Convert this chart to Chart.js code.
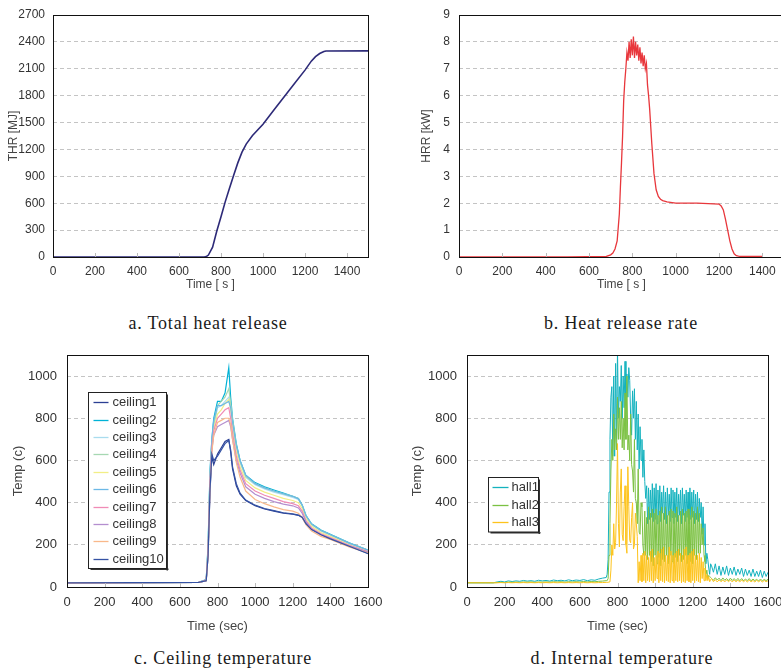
<!DOCTYPE html>
<html>
<head>
<meta charset="utf-8">
<script src="https://cdn.jsdelivr.net/npm/chart.js@4.4.0/dist/chart.umd.min.js"></script>
<style>
    html, body {
        margin: 0;
        padding: 0;
        background: #fff;
        width: 781px;
        height: 672px;
        overflow: hidden;
        position: relative;
    }
    canvas {
        position: absolute;
    }
    .caption {
        position: absolute;
        font-family: "Liberation Serif", "Times New Roman", serif;
        font-size: 18px;
        letter-spacing: 0.8px;
        line-height: 20px;
        color: #1a1a1a;
        white-space: nowrap;
        transform: translateX(-50%);
    }
</style>
</head>
<body>
<canvas id="thr-chart" width="390" height="292" style="left:0;top:0"></canvas>
<canvas id="hrr-chart" width="400" height="292" style="left:400px;top:0"></canvas>
<canvas id="ceiling-chart" width="390" height="294" style="left:0;top:340px"></canvas>
<canvas id="hall-chart" width="391" height="294" style="left:390px;top:340px"></canvas>
<div class="caption" style="left:208px;top:313px">a. Total heat release</div>
<div class="caption" style="left:621px;top:313px">b. Heat release rate</div>
<div class="caption" style="left:223px;top:648px">c. Ceiling temperature</div>
<div class="caption" style="left:622px;top:648px">d. Internal temperature</div>
<script>
// a. total heat release
const thrTime = [0, 700, 720, 730, 740, 760, 780, 800, 820, 840, 860, 880, 900, 920, 950, 1000, 1050, 1100, 1150, 1200, 1230, 1250, 1270, 1290, 1300, 1500];
const thrValues = [0, 0, 0, 5, 22, 110, 290, 450, 615, 765, 910, 1050, 1170, 1260, 1355, 1480, 1635, 1785, 1935, 2085, 2185, 2235, 2270, 2292, 2298, 2300];

// b. heat release rate
const hrrTime = [0, 500, 680, 700, 710, 720, 730, 740, 745, 750, 755, 760, 765, 770, 775, 780, 785, 790, 795, 800, 805, 810, 815, 820, 825, 830, 835, 840, 845, 850, 855, 860, 865, 870, 875, 880, 890, 900, 910, 920, 930, 940, 960, 1000, 1100, 1200, 1210, 1220, 1230, 1240, 1250, 1260, 1270, 1280, 1290, 1300, 1400];
const hrrValues = [0, 0, 0.02, 0.08, 0.15, 0.3, 0.6, 1.6, 2.6, 3.5, 4.5, 5.8, 6.5, 7.0, 7.6, 7.3, 8.0, 7.4, 8.1, 7.5, 8.2, 7.4, 8.0, 7.5, 7.9, 7.3, 7.8, 7.2, 7.6, 7.1, 7.5, 7.0, 7.2, 6.4, 6.0, 5.5, 4.2, 3.1, 2.5, 2.25, 2.15, 2.1, 2.05, 2.0, 2.0, 1.97, 1.9, 1.75, 1.4, 1.0, 0.6, 0.3, 0.12, 0.05, 0.03, 0.02, 0.02];

// c. ceiling temperature
const ceilingTime = [0, 700, 740, 750, 760, 770, 780, 800, 820, 840, 860, 870, 880, 900, 920, 950, 1000, 1050, 1100, 1150, 1200, 1230, 1250, 1270, 1300, 1350, 1400, 1500, 1600];
const ceiling1 = [20, 22, 30, 150, 450, 620, 580, 630, 660, 690, 700, 640, 560, 480, 440, 410, 385, 370, 360, 350, 345, 340, 330, 300, 275, 250, 230, 195, 160];
const ceiling2 = [20, 22, 35, 200, 550, 700, 800, 880, 880, 920, 1040, 900, 800, 680, 600, 530, 495, 475, 460, 445, 430, 420, 390, 340, 300, 270, 250, 210, 175];
const ceiling3 = [20, 22, 33, 180, 520, 680, 760, 850, 860, 880, 900, 860, 780, 660, 590, 520, 485, 465, 450, 438, 425, 415, 385, 335, 295, 265, 245, 205, 172];
const ceiling4 = [20, 22, 33, 180, 520, 690, 770, 860, 880, 900, 940, 870, 790, 670, 595, 525, 490, 470, 455, 442, 430, 420, 388, 338, 298, 268, 248, 208, 175];
const ceiling5 = [20, 22, 32, 170, 500, 670, 750, 820, 840, 870, 890, 840, 760, 640, 570, 505, 470, 450, 435, 420, 410, 400, 372, 325, 288, 258, 240, 200, 168];
const ceiling6 = [20, 22, 34, 190, 530, 700, 790, 860, 860, 870, 880, 850, 780, 670, 600, 530, 490, 470, 455, 442, 430, 418, 388, 338, 298, 268, 248, 208, 175];
const ceiling7 = [20, 22, 32, 170, 500, 660, 740, 800, 820, 840, 850, 800, 730, 620, 555, 490, 455, 435, 420, 405, 395, 385, 360, 315, 280, 252, 235, 198, 168];
const ceiling8 = [20, 22, 31, 160, 480, 650, 720, 760, 770, 780, 790, 760, 700, 600, 540, 475, 440, 420, 405, 393, 385, 375, 350, 310, 275, 248, 230, 195, 165];
const ceiling9 = [20, 22, 30, 160, 470, 640, 720, 780, 790, 800, 800, 770, 700, 590, 520, 455, 415, 395, 380, 367, 360, 350, 330, 295, 265, 240, 225, 190, 162];
const ceiling10 = [20, 22, 30, 150, 460, 630, 600, 620, 650, 680, 695, 650, 570, 490, 445, 412, 388, 372, 362, 352, 347, 341, 331, 300, 272, 248, 228, 193, 158];
const ceilingNames = ['ceiling1', 'ceiling2', 'ceiling3', 'ceiling4', 'ceiling5', 'ceiling6', 'ceiling7', 'ceiling8', 'ceiling9', 'ceiling10'];
const ceilingColors = ['#2b3f93', '#00b2d6', '#a9dcee', '#a6d8b2', '#f2ee86', '#6cb8e6', '#f08bb6', '#b48ecf', '#f9b88a', '#3452a4'];

// d. internal temperature (5 s steps through the fire, coarser elsewhere)
const hallTime = [0, 100, 140, 160, 180, 200, 220, 240, 260, 280, 300, 320, 340, 360, 380, 400, 420, 440, 460, 480, 500, 520, 540, 560, 580, 600, 620, 640, 660, 680, 700, 720, 740,
    745, 750, 755, 760, 765, 770, 775, 780, 785, 790,
    795, 800, 805, 810, 815, 820, 825, 830, 835, 840,
    845, 850, 855, 860, 865, 870, 875, 880, 885, 890,
    895, 900, 905, 910, 915, 920, 925, 930, 935, 940,
    945, 950, 955, 960, 965, 970, 975, 980, 985, 990,
    995, 1000, 1005, 1010, 1015, 1020, 1025, 1030, 1035, 1040,
    1045, 1050, 1055, 1060, 1065, 1070, 1075, 1080, 1085, 1090,
    1095, 1100, 1105, 1110, 1115, 1120, 1125, 1130, 1135, 1140,
    1145, 1150, 1155, 1160, 1165, 1170, 1175, 1180, 1185, 1190,
    1195, 1200, 1205, 1210, 1215, 1220, 1225, 1230, 1235, 1240,
    1245, 1250, 1255, 1260, 1265, 1270, 1275, 1280, 1285, 1290,
    1295, 1300,
    1310, 1320, 1330, 1340, 1350, 1360, 1370, 1380, 1390, 1400,
    1410, 1420, 1430, 1440, 1450, 1460, 1470, 1480, 1490, 1500,
    1510, 1520, 1530, 1540, 1550, 1560, 1570, 1580, 1590, 1600];
const hall1 = [20, 20, 20, 24, 27, 24, 29, 26, 29, 27, 31, 28, 30, 27, 32, 29, 31, 28, 33, 30, 32, 29, 34, 30, 33, 31, 35, 30, 34, 32, 38, 42, 45,
    60, 130, 450, 700, 900, 950, 620, 1000, 620, 1060,
    700, 1125, 800, 950, 880, 1050, 800, 1000, 850, 1070,
    860, 1010, 900, 1040, 980, 800, 720, 930, 800, 940,
    700, 880, 650, 820, 560, 760, 600, 700, 520, 650,
    500, 420, 480, 300, 470, 320, 460, 330, 490, 310,
    470, 320, 490, 300, 460, 340, 480, 310, 450, 350,
    480, 320, 450, 300, 470, 340, 440, 310, 470, 330,
    460, 300, 450, 330, 470, 310, 440, 340, 460, 300,
    470, 340, 440, 310, 460, 330, 450, 300, 470, 320,
    450, 330, 460, 300, 440, 320, 450, 310, 420, 330,
    400, 250, 380, 200, 300, 110, 160, 130, 90, 60,
    110, 100,
    70, 110, 60, 100, 55, 95, 60, 100, 55, 90,
    60, 95, 55, 85, 60, 90, 50, 85, 55, 80,
    50, 85, 50, 75, 50, 80, 45, 75, 50, 70];
const hall2 = [20, 20, 20, 21, 22, 21, 23, 22, 23, 22, 24, 23, 24, 22, 24, 23, 24, 23, 25, 24, 25, 23, 25, 24, 25, 24, 26, 24, 26, 25, 27, 28, 30,
    30, 40, 150, 300, 550, 700, 600, 820, 650, 750,
    650, 900, 700, 850, 700, 880, 660, 800, 650, 920,
    700, 1000, 650, 720, 600, 820, 580, 550, 450, 700,
    420, 400, 300, 560, 260, 250, 400, 380, 200, 150,
    360, 150, 330, 130, 380, 150, 350, 120, 370, 100,
    350, 150, 370, 110, 340, 140, 360, 100, 380, 130,
    350, 120, 380, 150, 340, 110, 360, 150, 370, 120,
    360, 110, 350, 140, 380, 120, 340, 150, 360, 120,
    370, 130, 350, 150, 360, 110, 370, 130, 340, 120,
    380, 110, 360, 150, 350, 130, 380, 160, 350, 160,
    300, 200, 280, 150, 120, 60, 80, 40, 55, 50,
    45, 40,
    32, 44, 33, 42, 30, 43, 32, 40, 30, 42,
    31, 40, 30, 41, 30, 40, 29, 38, 30, 40,
    29, 38, 30, 37, 28, 38, 29, 36, 30, 37];
const hall3 = [20, 20, 20, 20, 21, 20, 21, 20, 21, 20, 21, 20, 21, 20, 21, 20, 21, 20, 21, 20, 21, 20, 21, 20, 21, 20, 21, 20, 21, 20, 21, 21, 22,
    22, 22, 24, 25, 80, 200, 150, 300, 180, 210,
    400, 680, 300, 190, 450, 560, 250, 220, 380, 480,
    200, 160, 570, 380, 220, 210, 330, 400, 180, 200,
    350, 300, 240, 20, 120, 30, 150, 25, 160, 30,
    170, 20, 150, 30, 140, 25, 170, 30, 180, 20,
    140, 30, 150, 40, 170, 20, 160, 30, 180, 25,
    190, 20, 150, 30, 150, 25, 190, 20, 170, 30,
    150, 20, 160, 30, 170, 25, 180, 30, 160, 20,
    150, 25, 180, 20, 190, 30, 150, 25, 160, 20,
    170, 30, 180, 20, 150, 30, 150, 25, 160, 20,
    140, 40, 120, 30, 90, 30, 60, 30, 50, 25,
    35, 40,
    25, 35, 24, 34, 25, 33, 24, 34, 25, 33,
    24, 33, 25, 32, 24, 33, 25, 32, 24, 32,
    25, 31, 24, 32, 25, 31, 24, 31, 25, 30];
const hallNames = ['hall1', 'hall2', 'hall3'];
const hallColors = ['#14b2be', '#7bc142', '#fdc31c'];

Chart.defaults.font.family = '"Liberation Sans", Arial, sans-serif';
Chart.defaults.color = '#333';

function toPoints(time, values) {
    return values.map((v, i) => ({x: time[i], y: v}));
}

// black frame round the plot and little inward ticks on the time axis
const framePlugin = {
    id: 'frame',
    afterDatasetsDraw(chart) {
        const {ctx, chartArea: a, scales} = chart;
        ctx.save();
        ctx.strokeStyle = '#bbb';
        ctx.lineWidth = 1;
        scales.x.ticks.forEach((t) => {
            const px = Math.round(scales.x.getPixelForValue(t.value)) + 0.5;
            ctx.beginPath();
            ctx.moveTo(px, a.bottom - 4);
            ctx.lineTo(px, a.bottom);
            ctx.stroke();
        });
        ctx.strokeStyle = '#111';
        ctx.strokeRect(Math.round(a.left) + 0.5, Math.round(a.top) + 0.5, Math.round(a.width), Math.round(a.height));
        ctx.restore();
    }
};

// boxed legend inside the plot, like the spreadsheet one
const boxLegendPlugin = {
    id: 'boxLegend',
    afterDraw(chart, args, opts) {
        if (!opts.show) {
            return;
        }
        const {ctx, chartArea} = chart;
        const x = Math.round(chartArea.left + opts.x) + 0.5;
        const y = Math.round(chartArea.top + opts.y) + 0.5;
        const sets = chart.data.datasets;
        const h = sets.length * opts.row + 2;
        ctx.save();
        ctx.fillStyle = '#fff';
        ctx.fillRect(x, y, opts.w, h);
        ctx.fillStyle = '#333';
        ctx.fillRect(x + 2, y + h, opts.w, 1.5);
        ctx.fillRect(x + opts.w, y + 2, 1.5, h);
        ctx.strokeStyle = '#222';
        ctx.lineWidth = 1;
        ctx.strokeRect(x, y, opts.w, h);
        ctx.font = opts.fontSize + 'px "Liberation Sans", Arial, sans-serif';
        ctx.textBaseline = 'middle';
        sets.forEach((ds, i) => {
            const cy = Math.round(y + 1 + opts.row * (i + 0.5)) + 0.5;
            ctx.strokeStyle = ds.borderColor;
            ctx.lineWidth = 1.3;
            ctx.beginPath();
            ctx.moveTo(x + opts.lineStart, cy);
            ctx.lineTo(x + opts.lineStart + opts.lineLen, cy);
            ctx.stroke();
            ctx.fillStyle = '#333';
            ctx.fillText(ds.label, x + opts.textX, cy);
        });
        ctx.restore();
    }
};

function axisOptions(s) {
    return {
        x: {
            type: 'linear',
            min: 0,
            max: s.xMax,
            border: {display: false},
            grid: {display: false, drawTicks: false},
            ticks: {
                stepSize: 200, includeBounds: false, padding: s.xTickPad, maxRotation: 0,
                font: {size: s.fontSize}, color: '#333',
                callback: (v) => String(v)
            },
            title: {display: true, text: s.xTitle, color: '#444', font: {size: s.fontSize}, padding: {top: 0, bottom: 0}},
            afterFit: (scale) => {
                scale.height = s.xHeight;
                scale.paddingLeft = 0;
                scale.paddingRight = 0;
            }
        },
        y: {
            type: 'linear',
            min: 0,
            max: s.yMax,
            border: {display: false, dash: [4, 3]},
            grid: {
                drawTicks: false,
                color: (c) => (c.tick && c.tick.value > 0 && c.tick.value < s.yMax) ? '#c4c4c4' : 'rgba(0,0,0,0)',
                lineWidth: 1
            },
            ticks: {
                stepSize: s.yStep, includeBounds: false, padding: s.yTickPad,
                font: {size: s.fontSize}, color: '#333',
                callback: (v) => String(v)
            },
            title: {display: true, text: s.yTitle, color: '#444', font: {size: s.fontSize}, padding: {top: s.yTitlePad, bottom: 0}},
            afterFit: (scale) => {
                scale.width = s.yWidth;
                scale.paddingTop = 0;
                scale.paddingBottom = 0;
            }
        }
    };
}

function buildChart(id, datasets, s, legend) {
    return new Chart(document.getElementById(id), {
        type: 'line',
        data: {datasets: datasets},
        options: {
            responsive: false,
            animation: false,
            events: [],
            layout: {padding: {left: 0, top: s.padTop, right: s.padRight, bottom: 0}},
            scales: axisOptions(s),
            plugins: {
                legend: {display: false},
                tooltip: {enabled: false},
                boxLegend: legend || {show: false}
            },
            elements: {point: {radius: 0}, line: {tension: 0}}
        },
        plugins: [framePlugin, boxLegendPlugin]
    });
}

buildChart('thr-chart', [{
    label: 'THR',
    data: toPoints(thrTime, thrValues),
    borderColor: '#2d2a78',
    borderWidth: 1.6
}], {
    xMax: 1500, yMax: 2700, yStep: 300, fontSize: 12,
    xTitle: 'Time [ s ]', yTitle: 'THR [MJ]',
    yWidth: 53, xHeight: 35, padTop: 15, padRight: 22,
    yTickPad: 8, xTickPad: 7, yTitlePad: 6
});

buildChart('hrr-chart', [{
    label: 'HRR',
    data: toPoints(hrrTime, hrrValues),
    borderColor: '#e8373c',
    borderWidth: 1.3
}], {
    xMax: 1500, yMax: 9, yStep: 1, fontSize: 12,
    xTitle: 'Time [ s ]', yTitle: 'HRR [kW]',
    yWidth: 59, xHeight: 35, padTop: 15, padRight: 16,
    yTickPad: 9, xTickPad: 7, yTitlePad: 19
});

const ceilingSeries = [ceiling1, ceiling2, ceiling3, ceiling4, ceiling5, ceiling6, ceiling7, ceiling8, ceiling9, ceiling10];
buildChart('ceiling-chart', ceilingSeries.map((vals, i) => ({
    label: ceilingNames[i],
    data: toPoints(ceilingTime, vals),
    borderColor: ceilingColors[i],
    borderWidth: 1.2,
    order: ceilingSeries.length - i
})), {
    xMax: 1600, yMax: 1100, yStep: 200, fontSize: 13,
    xTitle: 'Time (sec)', yTitle: 'Temp (c)',
    yWidth: 67, xHeight: 47, padTop: 15, padRight: 22,
    yTickPad: 10, xTickPad: 8, yTitlePad: 11
}, {show: true, x: 21, y: 37, w: 78, row: 17.4, lineStart: 5, lineLen: 15, textX: 24, fontSize: 13});

const hallSeries = [hall1, hall2, hall3];
buildChart('hall-chart', hallSeries.map((vals, i) => ({
    label: hallNames[i],
    data: toPoints(hallTime, vals),
    borderColor: hallColors[i],
    borderWidth: 1,
    order: hallSeries.length - i
})), {
    xMax: 1600, yMax: 1100, yStep: 200, fontSize: 13,
    xTitle: 'Time (sec)', yTitle: 'Temp (c)',
    yWidth: 77, xHeight: 47, padTop: 15, padRight: 13,
    yTickPad: 10, xTickPad: 8, yTitlePad: 20
}, {show: true, x: 21, y: 122, w: 50, row: 17.5, lineStart: 4, lineLen: 16, textX: 23, fontSize: 13});
</script>
</body>
</html>
